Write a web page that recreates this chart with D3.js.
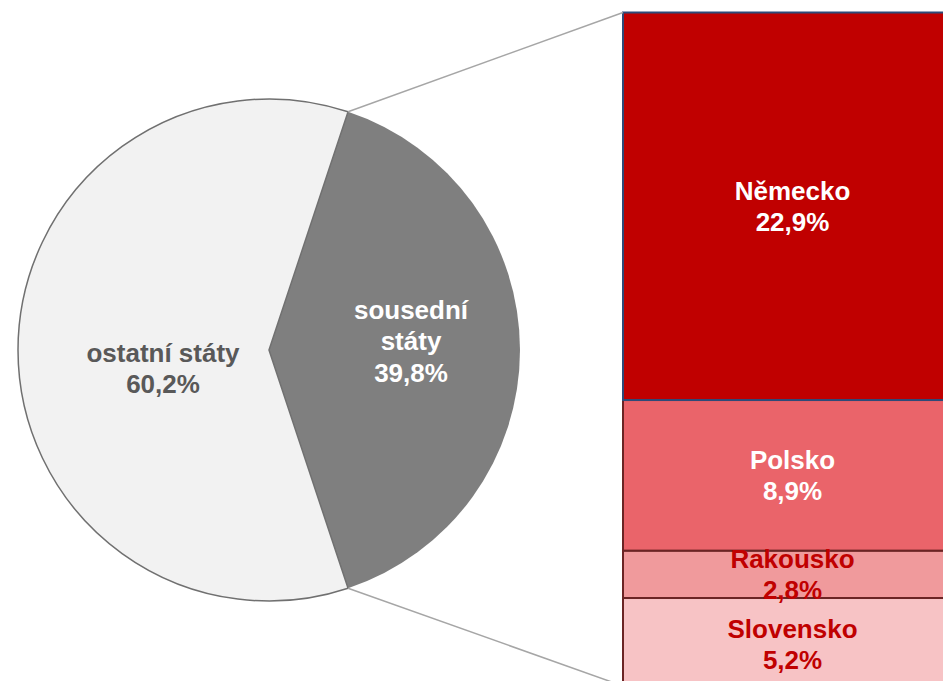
<!DOCTYPE html>
<html>
<head>
<meta charset="utf-8">
<script src="https://cdn.jsdelivr.net/npm/d3@7"></script>
<style>
  body { margin: 0; background: #fff; overflow: hidden; }
  svg { display: block; font-family: "Liberation Sans", Arial, sans-serif; font-weight: bold; }
</style>
</head>
<body>
<div id="chart"><svg width="943" height="681"></svg></div>
<script>
// pie: share of neighbouring vs. other states
const pieLabels = ['sousední státy', 'ostatní státy']
const pieValues = [39.8, 60.2]

// bar of pie: breakdown of neighbouring states
const barLabels = ['Německo', 'Polsko', 'Rakousko', 'Slovensko']
const barValues = [22.9, 8.9, 2.8, 5.2]

const fmt = v => d3.format('.1f')(v).replace('.', ',') + '%'

const svg = d3.select('#chart').select('svg')

const cx = 269
const cy = 350
const r = 251

// pie starts so that the first slice is centred on the right (3 o'clock)
const half = Math.PI * pieValues[0] / d3.sum(pieValues)
const pie = d3.pie().sort(null)
  .startAngle(Math.PI / 2 - half)
  .endAngle(Math.PI / 2 - half + 2 * Math.PI)
const arcs = pie(pieValues)
const arc = d3.arc().innerRadius(0).outerRadius(r)

const pieG = svg.append('g')
  .attr('transform', 'translate(' + cx + ',' + cy + ')')

pieG.selectAll('path')
  .data(arcs)
  .join('path')
  .attr('d', arc)
  .attr('fill', (d, i) => i === 0 ? '#7f7f7f' : '#f2f2f2')
  .attr('stroke', (d, i) => i === 0 ? 'none' : '#707070')
  .attr('stroke-width', 1.5)

// bar
const barX0 = 623
const barX1 = 962
const y = d3.scaleLinear()
  .domain([0, d3.sum(barValues)])
  .range([12.5, 686])

const stacked = []
let acc = 0
barValues.forEach((v, i) => {
  stacked.push({ label: barLabels[i], value: v, y0: acc, y1: acc + v })
  acc += v
})

const fills = ['#c00000', '#ea646a', '#f09a9c', '#f7c3c5']
const strokes = ['#2e4a78', '#6b2424', '#6b2424', '#6b2424']
const textColors = ['#ffffff', '#ffffff', '#c00000', '#c00000']

const barG = svg.append('g')

// draw lower segments first so the top border sits above
barG.selectAll('rect')
  .data(stacked.slice().reverse())
  .join('rect')
  .attr('x', barX0)
  .attr('y', d => y(d.y0))
  .attr('width', barX1 - barX0)
  .attr('height', d => y(d.y1) - y(d.y0))
  .attr('fill', d => fills[barLabels.indexOf(d.label)])
  .attr('stroke', d => strokes[barLabels.indexOf(d.label)])
  .attr('stroke-width', 2)

// connector lines
const pTop = [cx + r * Math.sin(arcs[0].startAngle), cy - r * Math.cos(arcs[0].startAngle)]
const pBot = [cx + r * Math.sin(arcs[0].endAngle), cy - r * Math.cos(arcs[0].endAngle)]
svg.append('line')
  .attr('x1', pTop[0]).attr('y1', pTop[1])
  .attr('x2', barX0).attr('y2', y(0))
  .attr('stroke', '#a6a6a6').attr('stroke-width', 1.5)
svg.append('line')
  .attr('x1', pBot[0]).attr('y1', pBot[1])
  .attr('x2', barX0).attr('y2', y(d3.sum(barValues)))
  .attr('stroke', '#a6a6a6').attr('stroke-width', 1.5)

// bar labels
const barText = barG.selectAll('text.bar-label')
  .data(stacked)
  .join('text')
  .attr('class', 'bar-label')
  .attr('text-anchor', 'middle')
  .attr('font-size', 26)
  .attr('fill', (d, i) => textColors[i])
  .attr('transform', d => 'translate(' + (barX0 + barX1) / 2 + ',' +
    ((y(d.y0) + y(d.y1)) / 2) + ')')

barText.append('tspan').attr('x', 0).attr('y', -6).text(d => d.label)
barText.append('tspan').attr('x', 0).attr('y', 25).text(d => fmt(d.value))

// Slovensko label sits near the top of its (cut off) segment
barText.filter(d => d.label === 'Slovensko')
  .attr('transform', d => 'translate(' + (barX0 + barX1) / 2 + ',' + (y(d.y0) + 46) + ')')

// pie labels
const pieText = pieG.selectAll('text')
  .data(arcs)
  .join('text')
  .attr('text-anchor', 'middle')
  .attr('font-size', 26)
  .attr('fill', (d, i) => i === 0 ? '#ffffff' : '#595959')

pieText.filter((d, i) => i === 0)
  .attr('transform', 'translate(142,0)')
  .each(function (d) {
    const t = d3.select(this)
    t.append('tspan').attr('x', 0).attr('y', -31).text('sousední')
    t.append('tspan').attr('x', 0).attr('y', 0).text('státy')
    t.append('tspan').attr('x', 0).attr('y', 32).text(fmt(d.value))
  })

pieText.filter((d, i) => i === 1)
  .attr('transform', 'translate(-106,0)')
  .each(function (d) {
    const t = d3.select(this)
    t.append('tspan').attr('x', 0).attr('y', 12).text(pieLabels[1])
    t.append('tspan').attr('x', 0).attr('y', 43).text(fmt(d.value))
  })
</script>
</body>
</html>
